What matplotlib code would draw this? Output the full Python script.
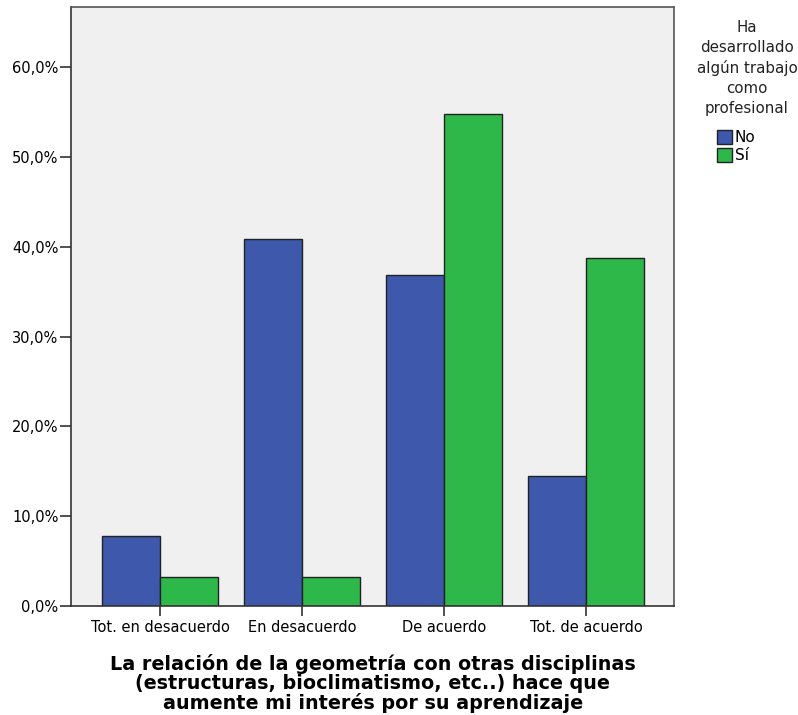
import numpy as np
import matplotlib.pyplot as plt
from matplotlib.ticker import FuncFormatter

plt.rcParams['font.family'] = ['DejaVu Sans']

# Datos (porcentaje dentro de cada grupo)
categorias = ['Tot. en desacuerdo', 'En desacuerdo', 'De acuerdo', 'Tot. de acuerdo']
grupos = ['No', 'Sí']
pct_no = [7.8, 40.9, 36.8, 14.5]
pct_si = [3.2, 3.2, 54.8, 38.7]

color_no = '#3e58ac'
color_si = '#2eb84a'

fig = plt.figure(figsize=(7.98, 7.15), dpi=100)
ax = fig.add_axes([0.089, 0.1524, 0.756, 0.838])
ax.set_facecolor('#f0f0f0')

x = np.arange(len(categorias))
ancho = 0.41
ax.bar(x - ancho/2, pct_no, ancho, color=color_no, edgecolor='#222222', linewidth=1.0, label=grupos[0])
ax.bar(x + ancho/2, pct_si, ancho, color=color_si, edgecolor='#222222', linewidth=1.0, label=grupos[1])

ax.set_xlim(-0.627, 3.62)
ax.set_ylim(0, 66.7)
ax.set_yticks(np.arange(0, 61, 10))
ax.yaxis.set_major_formatter(FuncFormatter(lambda v, p: f'{v:.1f}%'.replace('.', ',')))
ax.set_xticks(x)
ax.set_xticklabels(categorias)

for s in ax.spines.values():
    s.set_color('#555555')
    s.set_linewidth(1.2)
ax.spines['left'].set_color('#333333')
ax.spines['bottom'].set_color('#333333')
ax.tick_params(axis='y', direction='out', length=8, width=1.2, color='#333333', labelsize=10.5, pad=1)
ax.tick_params(axis='x', direction='out', length=7, width=1.2, color='#333333', labelsize=10.5, pad=3)

ax.set_xlabel('La relación de la geometría con otras disciplinas\n(estructuras, bioclimatismo, etc..) hace que\naumente mi interés por su aprendizaje',
              fontsize=13.8, fontweight='bold', linespacing=0.98, labelpad=14)

# Leyenda a la derecha
fig.text(0.936, 0.972, 'Ha\ndesarrollado\nalgún trabajo\ncomo\nprofesional', ha='center', va='top',
         fontsize=10.8, linespacing=1.41, color='#222222')
leg = fig.legend(loc='upper left', bbox_to_anchor=(0.889, 0.829), frameon=False, fontsize=11,
                 handlelength=1.0, handleheight=1.0, handletextpad=0.15, labelspacing=0.2, borderpad=0)

fig.savefig('out.png', dpi=100)
